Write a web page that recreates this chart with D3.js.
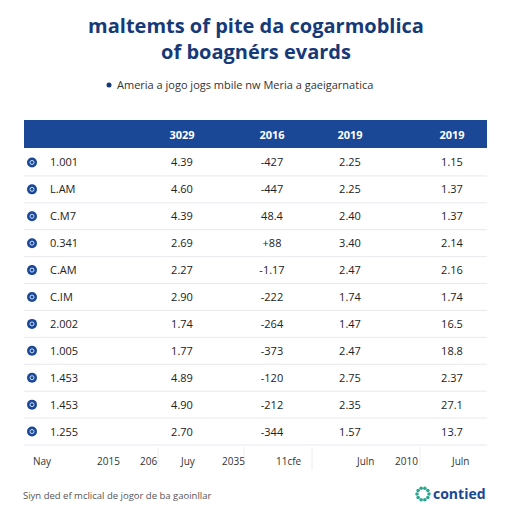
<!DOCTYPE html>
<html><head><meta charset="utf-8">
<script src="https://cdn.jsdelivr.net/npm/d3@7"></script>
<style>body{margin:0;background:#fff}</style>
</head><body>
<svg id="chart" width="512" height="512"></svg>
<script>
const years = ["3029", "2016", "2019", "2019"];
const rowLabels = ["1.001", "L.AM", "C.M7", "0.341", "C.AM", "C.IM", "2.002", "1.005", "1.453", "1.453", "1.255"];
const col1 = ["4.39", "4.60", "4.39", "2.69", "2.27", "2.90", "1.74", "1.77", "4.89", "4.90", "2.70"];
const col2 = ["-427", "-447", "48.4", "+88", "-1.17", "-222", "-264", "-373", "-120", "-212", "-344"];
const col3 = ["2.25", "2.25", "2.40", "3.40", "2.47", "1.74", "1.47", "2.47", "2.75", "2.35", "1.57"];
const col4 = ["1.15", "1.37", "1.37", "2.14", "2.16", "1.74", "16.5", "18.8", "2.37", "27.1", "13.7"];
const footLabels = ["Nay", "2015", "206", "Juy", "2035", "11cfe", "Juln", "2010", "Juln"];
const footX = [33, 97, 140, 181, 222, 276, 357, 395, 452];

const svg = d3.select("#chart");
const font = "'Open Sans', sans-serif";

// title
svg.append("text").attr("x", 256).attr("y", 33).attr("text-anchor", "middle")
  .attr("font-family", font).attr("font-weight", 700).attr("font-size", 20).attr("fill", "#163a78")
  .text("maltemts of pite da cogarmoblica");
svg.append("text").attr("x", 256).attr("y", 59).attr("text-anchor", "middle")
  .attr("font-family", font).attr("font-weight", 700).attr("font-size", 20).attr("fill", "#163a78")
  .text("of boagnérs evards");
svg.append("circle").attr("cx", 109).attr("cy", 85).attr("r", 2.5).attr("fill", "#163a78");
svg.append("text").attr("x", 117).attr("y", 89).attr("font-family", font).attr("font-size", 11).attr("fill", "#333")
  .text("Ameria a jogo jogs mbile nw Meria a gaeigarnatica");

// header
svg.append("rect").attr("x", 24).attr("y", 120).attr("width", 463).attr("height", 28).attr("fill", "#1a4896");
const x = d3.scaleOrdinal().domain([0, 1, 2, 3]).range([182, 272, 350, 452]);
years.forEach((y, i) => svg.append("text").attr("x", x(i)).attr("y", 139).attr("text-anchor", "middle")
  .attr("font-family", font).attr("font-weight", 700).attr("font-size", 11).attr("fill", "#fff").text(y));

// rows
const yS = d3.scaleBand().domain(d3.range(rowLabels.length)).range([149, 445]);
const cols = [col1, col2, col3, col4];
const g = svg.append("g");
rowLabels.forEach((lab, i) => {
  const cy = yS(i) + yS.bandwidth() / 2;
  g.append("line").attr("x1", 24).attr("x2", 487).attr("y1", yS(i) + yS.bandwidth()).attr("y2", yS(i) + yS.bandwidth())
    .attr("stroke", "#e6e9ee");
  g.append("circle").attr("cx", 32).attr("cy", cy).attr("r", 5).attr("fill", "#1a4896");
  g.append("circle").attr("cx", 32).attr("cy", cy).attr("r", 2).attr("fill", "none").attr("stroke", "#cfe0ff").attr("stroke-width", 1);
  g.append("text").attr("x", 50).attr("y", cy + 4).attr("font-family", font).attr("font-size", 11).attr("fill", "#222").text(lab);
  cols.forEach((c, j) => g.append("text").attr("x", x(j)).attr("y", cy + 4).attr("text-anchor", "middle")
    .attr("font-family", font).attr("font-size", 11).attr("fill", "#222").text(c[i]));
});

// footer row
[158, 244, 312, 420].forEach(xx => svg.append("line").attr("x1", xx).attr("x2", xx).attr("y1", 447).attr("y2", 470).attr("stroke", "#eee"));
footLabels.forEach((t, i) => svg.append("text").attr("x", footX[i]).attr("y", 465).attr("font-family", font)
  .attr("font-size", 10).attr("fill", "#333").text(t));

// source + logo
svg.append("text").attr("x", 23).attr("y", 499).attr("font-family", font).attr("font-size", 9.5).attr("fill", "#555")
  .text("Siyn ded ef mclical de jogor de ba gaoinllar");
const lg = svg.append("g").attr("transform", "translate(423,494)");
d3.range(10).forEach(k => {
  const a = k / 10 * 2 * Math.PI;
  lg.append("circle").attr("cx", 6 * Math.cos(a)).attr("cy", 6 * Math.sin(a)).attr("r", 1.8).attr("fill", "#2aa88f");
});
svg.append("text").attr("x", 433).attr("y", 499).attr("font-family", font).attr("font-weight", 700)
  .attr("font-size", 14).attr("fill", "#1a4896").text("contied");
</script>
</body></html>
